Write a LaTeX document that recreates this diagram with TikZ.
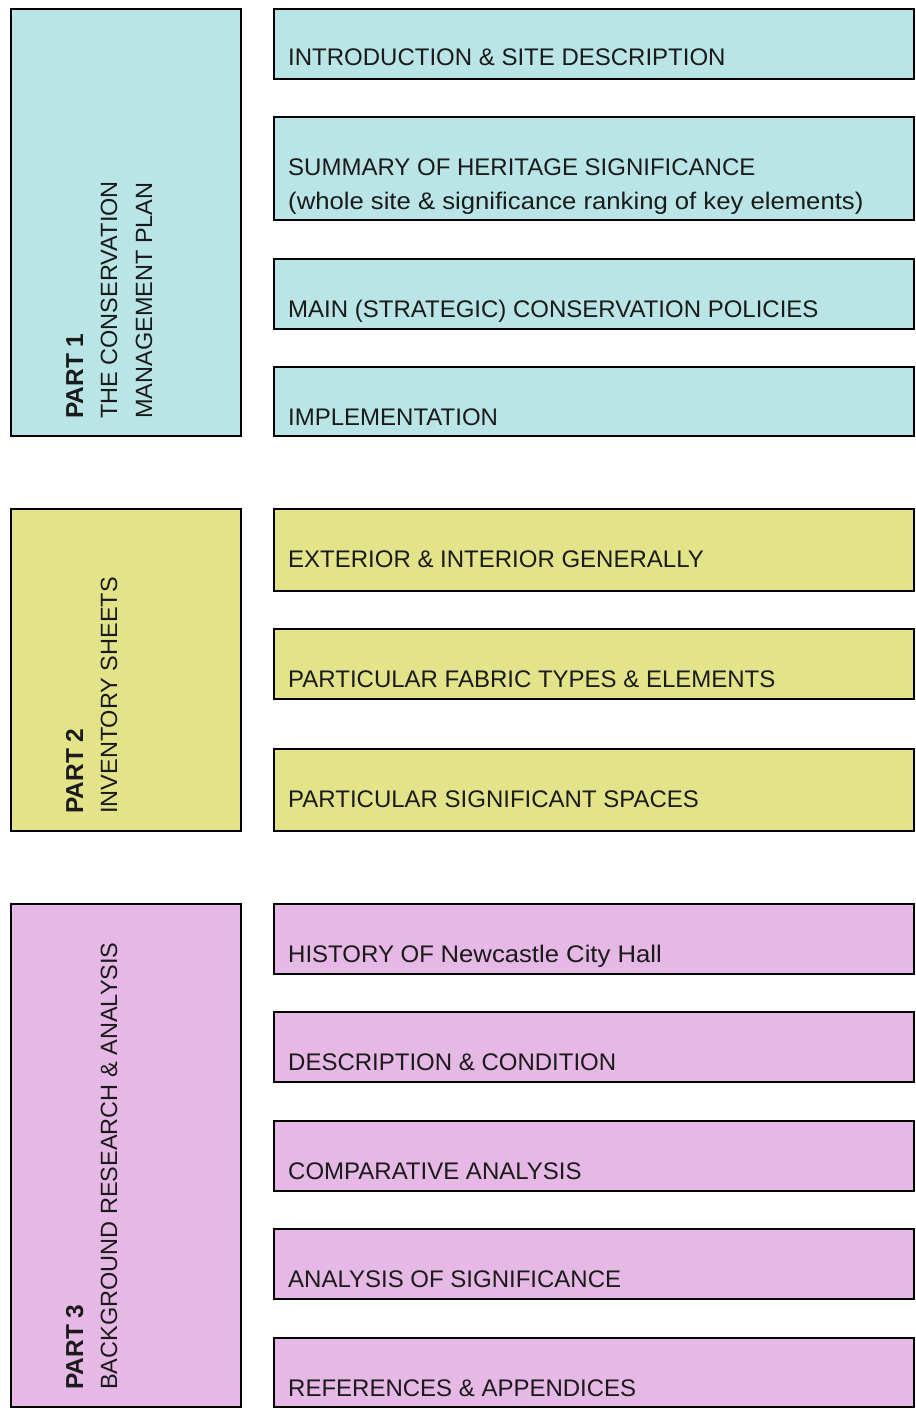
\documentclass[tikz,border=0pt]{standalone}
\usepackage{fontspec}
\setmainfont{Liberation Sans}
\newfontfamily\widefont[FakeStretch=1.07]{Liberation Sans}
\definecolor{cyanbox}{HTML}{B9E5E6}
\definecolor{yelbox}{HTML}{E3E48A}
\definecolor{pinkbox}{HTML}{E6B8E5}
\definecolor{txt}{HTML}{1A1A1A}
\begin{document}
\begin{tikzpicture}[x=1pt,y=-1pt,
  box/.style={draw=black,line width=2pt,inner sep=0pt,minimum width=640pt},
  lbox/.style={draw=black,line width=2pt,inner sep=0pt,minimum width=230pt},
  lbl/.style={anchor=base west,inner sep=0pt,text=txt,font=\fontsize{24}{34}\selectfont},
  vlbl/.style={anchor=base west,inner sep=0pt,rotate=90,text=txt,font=\fontsize{23.5}{34}\selectfont}]
\useasboundingbox (0,0) rectangle (916,1409);
% left boxes
\node[lbox,fill=cyanbox,minimum height=427pt] (p1) at (126,222.5) {};
\node[lbox,fill=yelbox,minimum height=322pt] (p2) at (126,670) {};
\node[lbox,fill=pinkbox,minimum height=503pt] (p3) at (126,1155.5) {};
\node[vlbl] (p1a) at (83,419) {\fontsize{24.5}{34}\selectfont\bfseries PART 1};
\node[vlbl] (p1b) at (117,419) {THE CONSERVATION};
\node[vlbl] (p1c) at (152,419) {MANAGEMENT PLAN};
\node[vlbl] (p2a) at (83,814) {\fontsize{24.5}{34}\selectfont\bfseries PART 2};
\node[vlbl] (p2b) at (117,814) {INVENTORY SHEETS};
\node[vlbl] (p3a) at (83,1390) {\fontsize{24.5}{34}\selectfont\bfseries PART 3};
\node[vlbl] (p3b) at (117,1390) {BACKGROUND RESEARCH \& ANALYSIS};
% right boxes part 1
\node[box,fill=cyanbox,minimum height=70pt] (a1) at (594,44) {};
\node[box,fill=cyanbox,minimum height=103pt] (a2) at (594,168.5) {};
\node[box,fill=cyanbox,minimum height=70pt] (a3) at (594,294) {};
\node[box,fill=cyanbox,minimum height=69pt] (a4) at (594,401.5) {};
\node[lbl] (ta1) at (288,65) {INTRODUCTION \& SITE DESCRIPTION};
\node[lbl] (ta2) at (288,175) {SUMMARY OF HERITAGE SIGNIFICANCE};
\node[lbl] (ta2b) at (288,209) {\widefont (whole site \& significance ranking of key elements)};
\node[lbl] (ta3) at (288,317) {MAIN (STRATEGIC) CONSERVATION POLICIES};
\node[lbl] (ta4) at (288,425) {IMPLEMENTATION};
% part 2
\node[box,fill=yelbox,minimum height=82pt] (b1) at (594,550) {};
\node[box,fill=yelbox,minimum height=70pt] (b2) at (594,664) {};
\node[box,fill=yelbox,minimum height=82pt] (b3) at (594,790) {};
\node[lbl] (tb1) at (288,567) {EXTERIOR \& INTERIOR GENERALLY};
\node[lbl] (tb2) at (288,687) {PARTICULAR FABRIC TYPES \& ELEMENTS};
\node[lbl] (tb3) at (288,807) {PARTICULAR SIGNIFICANT SPACES};
% part 3
\node[box,fill=pinkbox,minimum height=70pt] (c1) at (594,939) {};
\node[box,fill=pinkbox,minimum height=70pt] (c2) at (594,1047) {};
\node[box,fill=pinkbox,minimum height=70pt] (c3) at (594,1156) {};
\node[box,fill=pinkbox,minimum height=70pt] (c4) at (594,1264) {};
\node[box,fill=pinkbox,minimum height=69pt] (c5) at (594,1372.5) {};
\node[lbl] (tc1) at (288,962) {HISTORY OF {\widefont Newcastle City Hall}};
\node[lbl] (tc2) at (288,1070) {DESCRIPTION \& CONDITION};
\node[lbl] (tc3) at (288,1179) {COMPARATIVE ANALYSIS};
\node[lbl] (tc4) at (288,1287) {ANALYSIS OF SIGNIFICANCE};
\node[lbl] (tc5) at (288,1396) {REFERENCES \& APPENDICES};
\end{tikzpicture}
\end{document}
